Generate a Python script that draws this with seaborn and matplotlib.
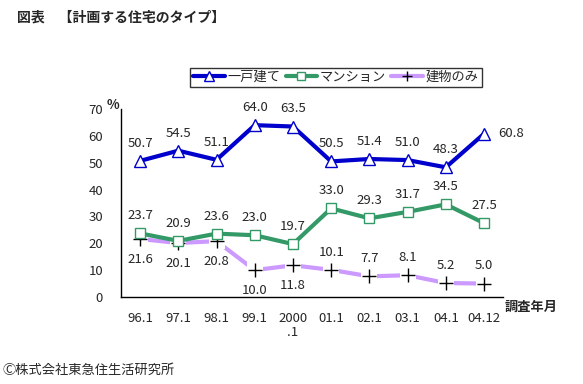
import matplotlib.pyplot as plt
import pandas as pd
import numpy as np
import seaborn as sns

periods = ['96.1', '97.1', '98.1', '99.1', '2000\n.1', '01.1', '02.1', '03.1', '04.1', '04.12']
detached = [50.7, 54.5, 51.1, 64.0, 63.5, 50.5, 51.4, 51.0, 48.3, 60.8]
condo = [23.7, 20.9, 23.6, 23.0, 19.7, 33.0, 29.3, 31.7, 34.5, 27.5]
building_only = [21.6, 20.1, 20.8, 10.0, 11.8, 10.1, 7.7, 8.1, 5.2, 5.0]

sns.set_style("white")
plt.rcParams['font.family'] = ['Noto Sans CJK JP', 'DejaVu Sans']

df = pd.DataFrame({'pos': np.arange(len(periods)), 'detached': detached,
                   'condo': condo, 'building': building_only})

fig = plt.figure(figsize=(5.83, 3.84), dpi=100)
ax = fig.add_axes([0.2075, 0.2266, 0.6555, 0.4894])

blue = '#0000CC'
green = '#339966'
lav = '#CC99FF'

sns.lineplot(data=df, x='pos', y='detached', ax=ax, color=blue, lw=3,
             marker='^', markersize=8, markerfacecolor='white', markeredgecolor=blue,
             markeredgewidth=1, label='一戸建て', zorder=5)
sns.lineplot(data=df, x='pos', y='condo', ax=ax, color=green, lw=3,
             marker='s', markersize=7, markerfacecolor='white', markeredgecolor=green,
             markeredgewidth=1, label='マンション', zorder=4)
sns.lineplot(data=df, x='pos', y='building', ax=ax, color=lav, lw=3,
             marker='+', markersize=8, markeredgecolor='black',
             markeredgewidth=1, label='建物のみ', zorder=1)
# white pads under the + markers give the broken-line look
ax.scatter(df['pos'], df['building'], marker='s', s=130, color='white', lw=0, zorder=2)
ax.scatter(df['pos'], df['building'], marker='+', s=90, color='black', lw=1, zorder=3)

# value labels
fs = 9.5
for i, v in enumerate(detached):
    if i == len(detached) - 1:
        ax.annotate(f'{v:.1f}', (i, v), xytext=(10, 0), textcoords='offset points',
                    ha='left', va='center', fontsize=fs)
    else:
        ax.annotate(f'{v:.1f}', (i, v), xytext=(0, 8), textcoords='offset points',
                    ha='center', va='bottom', fontsize=fs)
for i, v in enumerate(condo):
    ax.annotate(f'{v:.1f}', (i, v), xytext=(0, 8), textcoords='offset points',
                ha='center', va='bottom', fontsize=fs)
for i, v in enumerate(building_only):
    if i < 5:
        ax.annotate(f'{v:.1f}', (i, v), xytext=(0, -10), textcoords='offset points',
                    ha='center', va='top', fontsize=fs)
    else:
        ax.annotate(f'{v:.1f}', (i, v), xytext=(0, 8), textcoords='offset points',
                    ha='center', va='bottom', fontsize=fs)

ax.set_xlim(-0.5, len(periods) - 0.5)
ax.set_ylim(0, 70)
ax.set_yticks(range(0, 71, 10))
ax.set_xticks(np.arange(len(periods)))
ax.set_xticklabels(periods, fontsize=fs, linespacing=1.05)
ax.set_xticks(np.arange(len(periods) + 1) - 0.5, minor=True)
ax.tick_params(axis='x', which='major', length=0, pad=11)
ax.tick_params(axis='x', which='minor', length=3, width=1, direction='in', color='black')
ax.tick_params(axis='y', length=3, width=1, direction='in', color='black', labelsize=fs, pad=13)
ax.set_xlabel('')
ax.set_ylabel('')
for s in ['top', 'right']:
    ax.spines[s].set_visible(False)
for s in ['left', 'bottom']:
    ax.spines[s].set_color('black')
    ax.spines[s].set_linewidth(1)

ax.text(-0.005, 1.02, '%', transform=ax.transAxes, ha='right', va='center', fontsize=fs, fontweight='bold')
ax.text(1.005, -0.015, '調査年月', transform=ax.transAxes, ha='left', va='top', fontsize=fs, fontweight='bold')

leg = ax.legend(loc='lower center', bbox_to_anchor=(0.576, 0.773), bbox_transform=fig.transFigure,
                ncol=3, frameon=True, fancybox=False, edgecolor='black', fontsize=9.5,
                handlelength=2.4, columnspacing=0.4, handletextpad=0.2, borderpad=0.25,
                borderaxespad=0, markerscale=0.85)
leg.get_frame().set_linewidth(1)

fig.text(0.03, 0.955, '図表　【計画する住宅のタイプ】', fontsize=10, fontweight='bold', va='center')
fig.text(0.005, 0.035, 'Ⓒ株式会社東急住生活研究所', fontsize=9.5, va='center',
         family=['Noto Sans CJK JP', 'DejaVu Sans'])

fig.savefig('out.png', dpi=100)
